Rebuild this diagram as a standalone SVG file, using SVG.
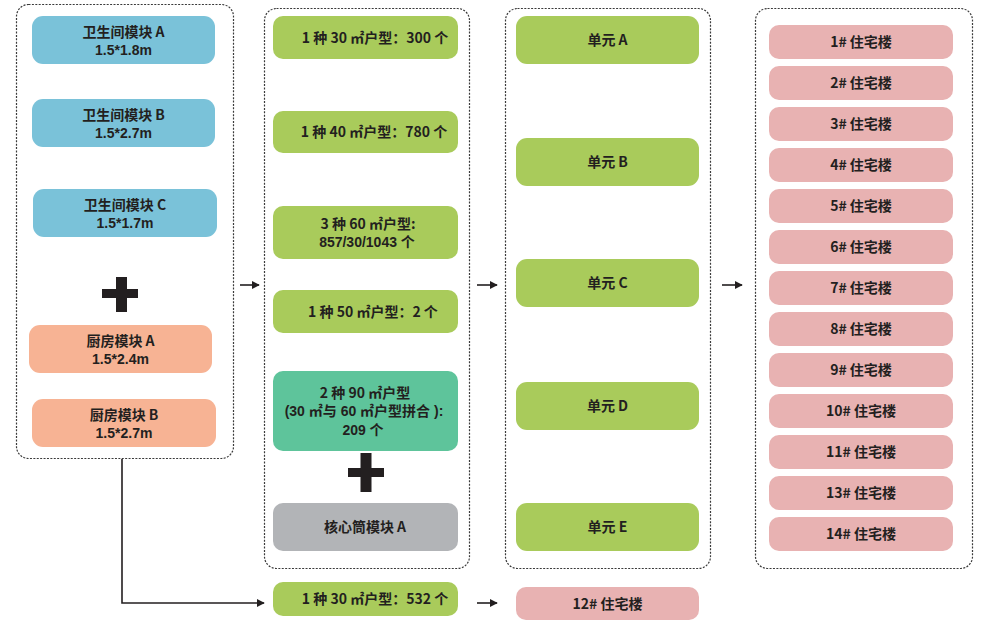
<svg xmlns="http://www.w3.org/2000/svg" width="988" height="628" viewBox="0 0 988 628">
<style>
.frame{fill:none;stroke:#3a3a3a;stroke-width:1.2;stroke-dasharray:2 1.4}
.blue{fill:#7ac2d9}
.orange{fill:#f7b394}
.green{fill:#a9cb5b}
.teal{fill:#5ec49b}
.grey{fill:#b2b4b7}
.pink{fill:#e8b2b2}
.plus{fill:#231f20}
text{font-family:"Noto Sans CJK SC","Noto Sans",sans-serif;font-weight:700;font-size:14px;fill:#231f20;text-anchor:middle}
text.l2{font-family:"Liberation Sans","Noto Sans CJK SC",sans-serif}
.conn{fill:none;stroke:#231f20;stroke-width:1.6}
</style>
<defs>
<marker id="ah" viewBox="0 0 10 10" refX="9" refY="5" markerWidth="8" markerHeight="8" markerUnits="userSpaceOnUse" orient="auto">
<path d="M0,0 L10,5 L0,10 z" fill="#231f20"/>
</marker>
</defs>
<rect fill="#ffffff" width="988" height="628"/>

<g id="frames">
<rect class="frame" x="16.5" y="4.5" width="217" height="454" rx="12"/>
<rect class="frame" x="264.5" y="8.5" width="205" height="560" rx="12"/>
<rect class="frame" x="505.5" y="8.5" width="205" height="560" rx="12"/>
<rect class="frame" x="755.5" y="8.5" width="217" height="560" rx="12"/>
</g>

<g id="bath-a"><rect class="blue" x="32" y="16" width="183" height="48" rx="11"/><text x="123.5" y="36.5">卫生间模块 A</text><text class="l2" x="123.5" y="54.5">1.5*1.8m</text></g>
<g id="bath-b"><rect class="blue" x="32" y="99" width="183" height="48" rx="11"/><text x="123.5" y="119.5">卫生间模块 B</text><text class="l2" x="123.5" y="137.5">1.5*2.7m</text></g>
<g id="bath-c"><rect class="blue" x="33" y="189" width="184" height="48" rx="11"/><text x="125" y="209.5">卫生间模块 C</text><text class="l2" x="125" y="227.5">1.5*1.7m</text></g>
<g id="plus-1"><rect class="plus" x="102" y="289" width="36" height="9"/><rect class="plus" x="116" y="277" width="11" height="35"/></g>
<g id="kitchen-a"><rect class="orange" x="29" y="325" width="183" height="48" rx="11"/><text x="120.5" y="345.5">厨房模块 A</text><text class="l2" x="120.5" y="363.5">1.5*2.4m</text></g>
<g id="kitchen-b"><rect class="orange" x="32" y="399" width="184" height="48" rx="11"/><text x="124" y="419.5">厨房模块 B</text><text class="l2" x="124" y="437.5">1.5*2.7m</text></g>

<g id="type-30"><rect class="green" x="273" y="16" width="185" height="43" rx="10"/><text x="375" y="42.5">1 种 30 ㎡户型：300 个</text></g>
<g id="type-40"><rect class="green" x="273" y="111" width="185" height="42" rx="10"/><text x="374" y="137">1 种 40 ㎡户型：780 个</text></g>
<g id="type-60"><rect class="green" x="273" y="206" width="185" height="53" rx="10"/><text x="368" y="228.5">3 种 60 ㎡户型:</text><text class="l2" x="367" y="247">857/30/1043 个</text></g>
<g id="type-50"><rect class="green" x="273" y="290" width="185" height="43" rx="10"/><text x="373" y="316.5">1 种 50 ㎡户型：2 个</text></g>
<g id="type-90"><rect class="teal" x="273" y="371" width="185" height="80" rx="10"/><text x="365" y="397.5">2 种 90 ㎡户型</text><text class="l2" x="364" y="416">(30 ㎡与 60 ㎡户型拼合 ):</text><text class="l2" x="363" y="434.5">209 个</text></g>
<g id="plus-2"><rect class="plus" x="348" y="468" width="36" height="9"/><rect class="plus" x="360.5" y="453" width="11" height="39"/></g>
<g id="core-a"><rect class="grey" x="273" y="503" width="185" height="48" rx="10"/><text x="365" y="532">核心筒模块 A</text></g>
<g id="type-30b"><rect class="green" x="273" y="582" width="185" height="34" rx="10"/><text x="375" y="604">1 种 30 ㎡户型：532 个</text></g>

<g id="unit-a"><rect class="green" x="516" y="16" width="183" height="48" rx="11"/><text x="607.5" y="45">单元 A</text></g>
<g id="unit-b"><rect class="green" x="516" y="138" width="183" height="48" rx="11"/><text x="607.5" y="167">单元 B</text></g>
<g id="unit-c"><rect class="green" x="516" y="259" width="183" height="48" rx="11"/><text x="607.5" y="288">单元 C</text></g>
<g id="unit-d"><rect class="green" x="516" y="382" width="183" height="48" rx="11"/><text x="607.5" y="411">单元 D</text></g>
<g id="unit-e"><rect class="green" x="516" y="503" width="183" height="48" rx="11"/><text x="607.5" y="532">单元 E</text></g>
<g id="bldg-12"><rect class="pink" x="516" y="587" width="183" height="33" rx="10"/><text x="607.5" y="608.5">12# 住宅楼</text></g>

<g id="bldg-1"><rect class="pink" x="769" y="25" width="184" height="34" rx="10"/><text x="861" y="47">1# 住宅楼</text></g>
<g id="bldg-2"><rect class="pink" x="769" y="66" width="184" height="34" rx="10"/><text x="861" y="88">2# 住宅楼</text></g>
<g id="bldg-3"><rect class="pink" x="769" y="107" width="184" height="34" rx="10"/><text x="861" y="129">3# 住宅楼</text></g>
<g id="bldg-4"><rect class="pink" x="769" y="148" width="184" height="34" rx="10"/><text x="861" y="170">4# 住宅楼</text></g>
<g id="bldg-5"><rect class="pink" x="769" y="189" width="184" height="34" rx="10"/><text x="861" y="211">5# 住宅楼</text></g>
<g id="bldg-6"><rect class="pink" x="769" y="230" width="184" height="34" rx="10"/><text x="861" y="252">6# 住宅楼</text></g>
<g id="bldg-7"><rect class="pink" x="769" y="271" width="184" height="34" rx="10"/><text x="861" y="293">7# 住宅楼</text></g>
<g id="bldg-8"><rect class="pink" x="769" y="312" width="184" height="34" rx="10"/><text x="861" y="334">8# 住宅楼</text></g>
<g id="bldg-9"><rect class="pink" x="769" y="353" width="184" height="34" rx="10"/><text x="861" y="375">9# 住宅楼</text></g>
<g id="bldg-10"><rect class="pink" x="769" y="394" width="184" height="34" rx="10"/><text x="861" y="416">10# 住宅楼</text></g>
<g id="bldg-11"><rect class="pink" x="769" y="435" width="184" height="34" rx="10"/><text x="861" y="457">11# 住宅楼</text></g>
<g id="bldg-13"><rect class="pink" x="769" y="476" width="184" height="34" rx="10"/><text x="861" y="498">13# 住宅楼</text></g>
<g id="bldg-14"><rect class="pink" x="769" y="517" width="184" height="34" rx="10"/><text x="861" y="539">14# 住宅楼</text></g>

<g id="connectors">
<line class="conn" x1="240" y1="285" x2="259" y2="285" marker-end="url(#ah)"/>
<line class="conn" x1="477" y1="285" x2="497" y2="285" marker-end="url(#ah)"/>
<line class="conn" x1="722" y1="285" x2="742" y2="285" marker-end="url(#ah)"/>
<polyline class="conn" points="122,459 122,603 264,603" marker-end="url(#ah)"/>
<line class="conn" x1="477" y1="603" x2="497" y2="603" marker-end="url(#ah)"/>
</g>
</svg>
